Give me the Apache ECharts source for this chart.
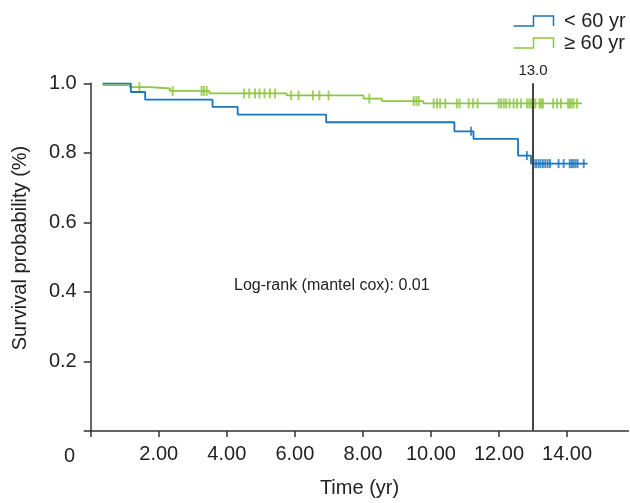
<!DOCTYPE html>
<html><head><meta charset="utf-8">
<script src="https://cdn.jsdelivr.net/npm/echarts@6/dist/echarts.min.js"></script>
<style>html,body{margin:0;padding:0;background:#fff}#c{width:630px;height:503px}</style>
</head><body><div id="c"></div>
<script>
// ---- data ----
const groupNames = ['< 60 yr', '\u2265 60 yr'];
// < 60 yr : Kaplan-Meier steps (time, survival after the step)
const youngTimes = [0.35, 1.18, 1.60, 3.58, 4.32, 6.92, 10.69, 11.25, 12.56, 12.94, 14.60];
const youngSurv  = [1.000, 0.975, 0.953, 0.932, 0.910, 0.888, 0.862, 0.840, 0.792, 0.769, 0.769];
const youngCensored = [11.18, 12.82, 13.02, 13.09, 13.16, 13.22, 13.29, 13.36, 13.43, 13.50,
                       13.75, 13.90, 14.08, 14.14, 14.19, 14.25, 14.31, 14.49];
// >= 60 yr
const oldTimes = [0.35, 1.15, 1.75, 2.33, 3.49, 5.76, 8.02, 8.56, 9.78, 14.44];
const oldSurv  = [0.995, 0.989, 0.985, 0.978, 0.971, 0.965, 0.956, 0.949, 0.942, 0.942];
const oldCensored = [1.43, 2.41, 3.26, 3.33, 3.41, 4.51, 4.66, 4.83, 4.96, 5.11, 5.27, 5.42,
                     5.89, 6.11, 6.53, 6.72, 6.99, 8.19, 9.49, 9.57, 9.64,
                     10.08, 10.18, 10.27, 10.42, 10.76, 10.84, 11.11, 11.24, 11.37,
                     11.99, 12.06, 12.14, 12.21, 12.31, 12.43, 12.53, 12.65, 12.82, 12.89, 12.95,
                     13.02, 13.07, 13.19, 13.24, 13.29, 13.59, 13.71, 13.82,
                     14.03, 14.08, 14.13, 14.19, 14.29];
const xTickValues = [2, 4, 6, 8, 10, 12, 14];
const xTickLabels = ['2.00', '4.00', '6.00', '8.00', '10.00', '12.00', '14.00'];
const yTickValues = [0.2, 0.4, 0.6, 0.8, 1.0];
const yTickLabels = ['0.2', '0.4', '0.6', '0.8', '1.0'];
const cutoffTime = 13.0;
const cutoffLabel = '13.0';
const annotation = 'Log-rank (mantel cox): 0.01';

// ---- helpers ----
const blue = '#1b75bb', green = '#8dc63f', axisCol = '#333', textCol = '#222';
function pairs(ts, ss) { return ts.map((t, i) => [t, ss[i]]); }
function survAt(ts, ss, t) { let v = ss[0]; for (let i = 0; i < ts.length; i++) { if (ts[i] <= t) v = ss[i]; } return v; }
function censorPts(cs, ts, ss) { return cs.map(t => [t, survAt(ts, ss, t)]); }
function labelFor(vals, labs, v) { for (let i = 0; i < vals.length; i++) if (Math.abs(vals[i] - v) < 1e-6) return labs[i]; return ''; }

const chart = echarts.init(document.getElementById('c'), null, {renderer: 'canvas'});
const font = 'Liberation Sans, Arial, sans-serif';
const stepIcon = 'path://M0,10L20,10L20,0L40,0L40,10';

chart.setOption({
  animation: false,
  textStyle: {fontFamily: font},
  grid: {left: 90.7, right: 1.7, top: 83.3, bottom: 70.3, containLabel: false},
  legend: {
    orient: 'vertical', left: 511, top: 11, padding: 0, itemWidth: 41, itemHeight: 10, itemGap: 2,
    textStyle: {fontSize: 20, color: textCol, fontFamily: font, padding: [0, 0, 0, 5]},
    data: [
      {name: groupNames[0], icon: stepIcon, itemStyle: {color: 'none', borderColor: blue, borderWidth: 1.5}},
      {name: groupNames[1], icon: stepIcon, itemStyle: {color: 'none', borderColor: green, borderWidth: 1.5}}
    ]
  },
  xAxis: {
    type: 'value', min: 0, max: 15.8, interval: 2,
    name: 'Time (yr)', nameLocation: 'middle', nameGap: 47,
    nameTextStyle: {fontSize: 20, color: textCol, fontFamily: font},
    axisLine: {lineStyle: {color: axisCol, width: 1.5}},
    axisTick: {length: 6, lineStyle: {color: axisCol, width: 1.5}},
    axisLabel: {fontSize: 20, color: textCol, margin: 13, fontFamily: font,
      showMaxLabel: false, formatter: v => labelFor(xTickValues, xTickLabels, v)},
    splitLine: {show: false}
  },
  yAxis: {
    type: 'value', min: 0, max: 1, interval: 0.2,
    axisLine: {show: true, lineStyle: {color: axisCol, width: 1.5}},
    axisTick: {show: true, length: 7, lineStyle: {color: axisCol, width: 1.5}},
    axisLabel: {fontSize: 20, color: textCol, margin: 14, fontFamily: font,
      formatter: v => labelFor(yTickValues, yTickLabels, v)},
    splitLine: {show: false}
  },
  graphic: [
    {type: 'text', x: 69.5, y: 456, style: {text: '0', fontSize: 20, fill: textCol, fontFamily: font, align: 'center', verticalAlign: 'middle'}},
    {type: 'text', x: 20, y: 248, rotation: Math.PI / 2, style: {text: 'Survival probability (%)', fontSize: 20, fill: textCol, fontFamily: font, align: 'center', verticalAlign: 'middle'}},
    {type: 'text', x: 234, y: 286, style: {text: annotation, fontSize: 16, fill: textCol, fontFamily: font, align: 'left', verticalAlign: 'middle'}}
  ],
  series: [
    {name: groupNames[0], type: 'line', step: 'end', data: pairs(youngTimes, youngSurv),
      showSymbol: false, symbol: 'none', lineStyle: {color: blue, width: 1.8}, itemStyle: {color: blue}, z: 3,
      markLine: {silent: true, symbol: 'none', lineStyle: {color: '#444', width: 2, type: 'solid'},
        label: {show: true, position: 'end', formatter: cutoffLabel, fontSize: 15, color: textCol, fontFamily: font},
        data: [{xAxis: cutoffTime}]}},
    {name: groupNames[1], type: 'line', step: 'end', data: pairs(oldTimes, oldSurv),
      showSymbol: false, symbol: 'none', lineStyle: {color: green, width: 1.8}, itemStyle: {color: green}, z: 2},
    {name: 'censor1', type: 'scatter', data: censorPts(youngCensored, youngTimes, youngSurv),
      symbol: 'rect', symbolSize: [2, 9], itemStyle: {color: blue}, z: 3, silent: true},
    {name: 'censor2', type: 'scatter', data: censorPts(oldCensored, oldTimes, oldSurv),
      symbol: 'rect', symbolSize: [2, 10], itemStyle: {color: green}, z: 2, silent: true}
  ]
});
</script></body></html>
